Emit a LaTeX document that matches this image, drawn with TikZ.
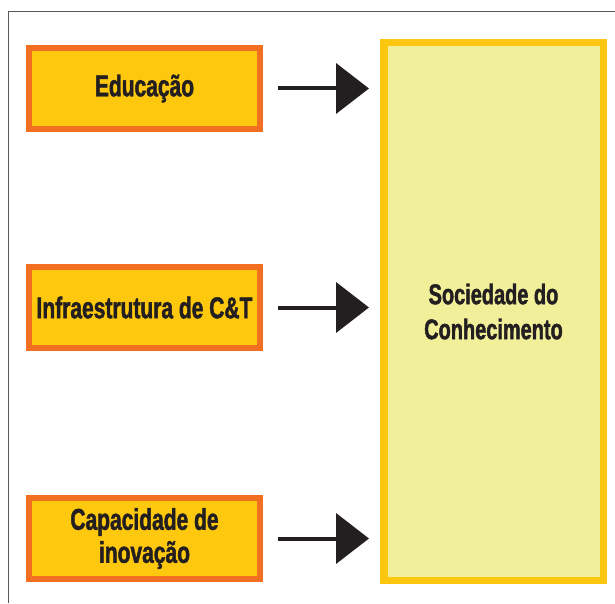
\documentclass[tikz,border=0pt]{standalone}
\usepackage{fontspec}
\usetikzlibrary{arrows.meta}
\newfontfamily\boxfont[FakeStretch=0.70,FakeBold=1.5]{Liberation Sans}
\definecolor{boxfill}{HTML}{FDC80E}
\definecolor{boxline}{HTML}{F26F21}
\definecolor{socfill}{HTML}{F2EF9B}
\definecolor{socline}{HTML}{FDC70F}
\definecolor{txt}{HTML}{231F20}
\begin{document}
\begin{tikzpicture}[x=1pt,y=1pt,
  factor/.style={draw=boxline,fill=boxfill,line width=6pt,minimum width=231pt,minimum height=81pt,inner sep=0pt,align=center,text=txt,font=\boxfont\bfseries\fontsize{30}{33}\selectfont},
  result/.style={draw=socline,fill=socfill,line width=7.5pt,minimum width=219.5pt,minimum height=537.5pt,inner sep=0pt,align=center,text=txt,font=\boxfont\bfseries\fontsize{28.5}{35}\selectfont},
  arr/.style={-{Triangle[length=33pt,width=50pt]},line width=4pt,draw=txt,shorten <=15pt,shorten >=11pt}]
\useasboundingbox (0,0) rectangle (615,603);
% frame
\draw[line width=1.5pt,black!65] (8.5,0) -- (8.5,591.5) -- (615,591.5);

\node[factor] (edu) at (144.5,514.5) {Educação};
\node[factor] (infra) at (144.5,295.5) {Infraestrutura de C\&T};
\node[factor] (inov) at (144.5,64.5) {Capacidade de\\inovação};
\node[result] (soc) at (493.5,291.5) {Sociedade do\\Conhecimento};

\draw[arr] (edu.east) -- (edu.east -| soc.west);
\draw[arr] (infra.east) -- (infra.east -| soc.west);
\draw[arr] (inov.east) -- (inov.east -| soc.west);
\end{tikzpicture}
\end{document}
